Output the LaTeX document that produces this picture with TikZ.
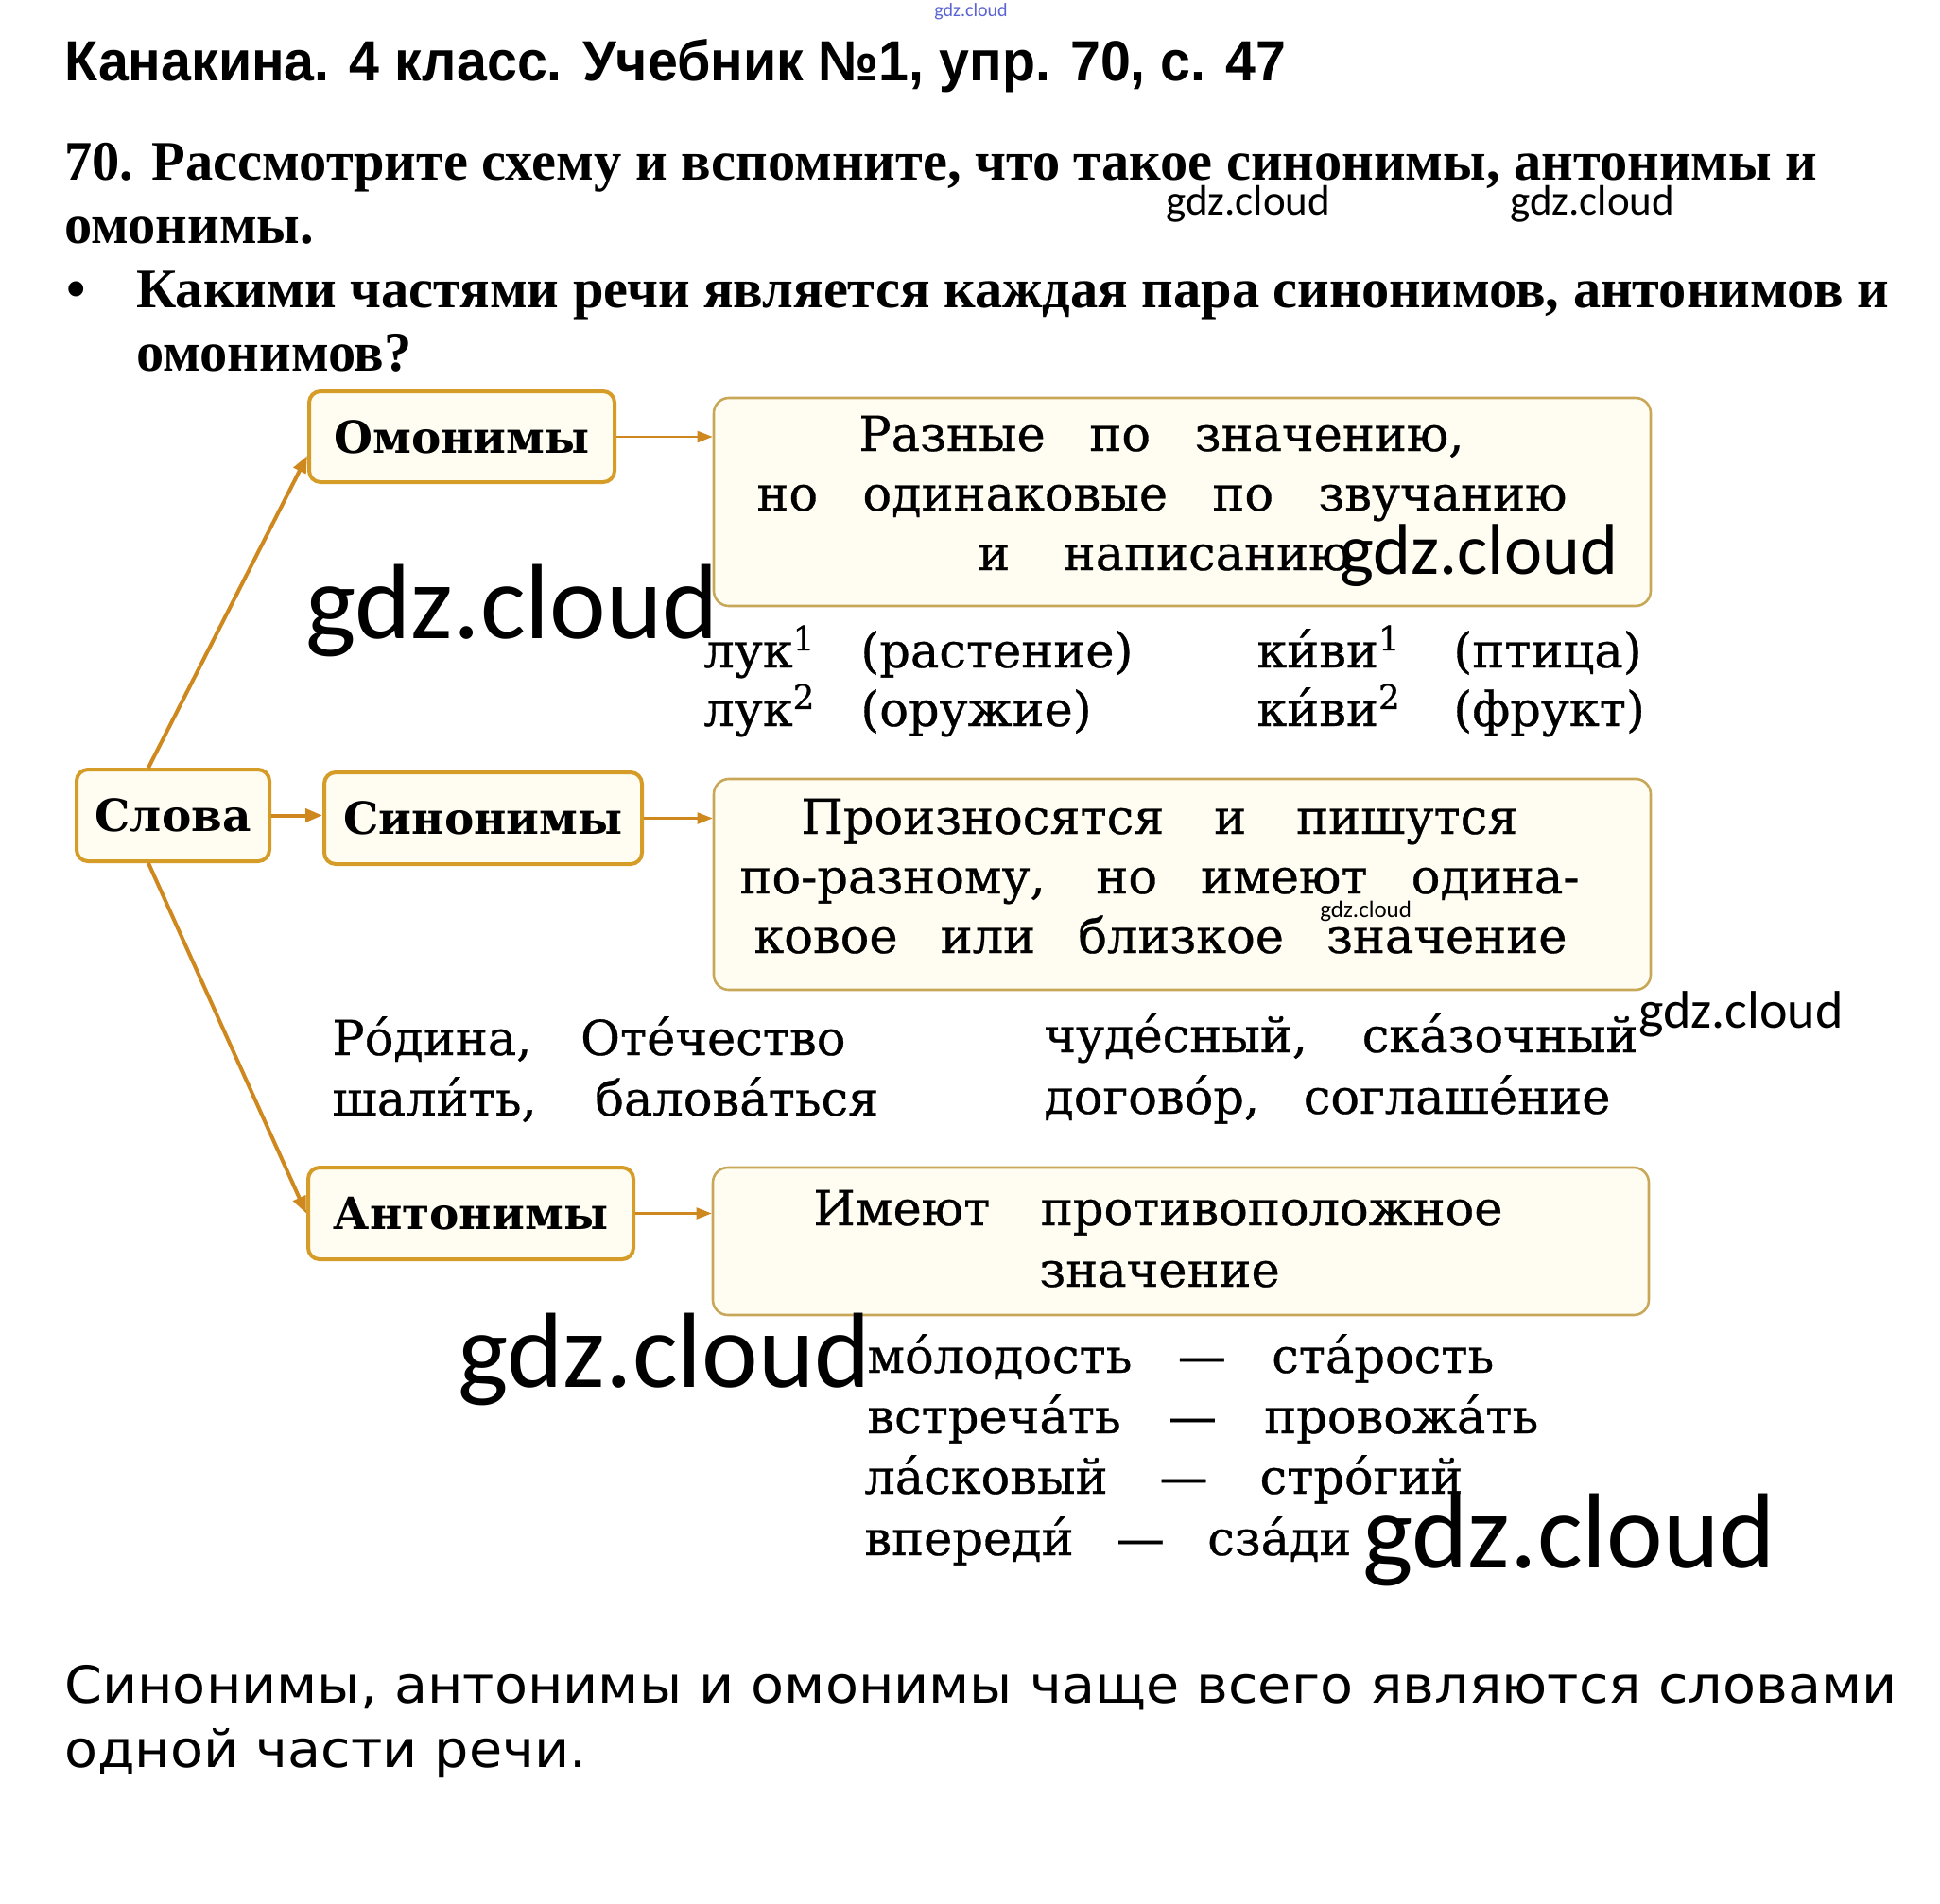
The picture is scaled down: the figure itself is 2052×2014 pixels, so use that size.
\documentclass[tikz,border=0pt]{standalone}
\usepackage{fontspec}
\setmainfont{DejaVu Serif}
\newfontfamily\bodyfont[FakeBold=0.6]{DejaVu Serif}
\newfontfamily\hdrfont[FakeStretch=0.955]{Liberation Sans}
\newfontfamily\qfont[FakeStretch=0.99]{Liberation Serif}
\newfontfamily\ansfont[FakeStretch=1.06]{DejaVu Sans}
\newfontfamily\wmfont{Carlito}
\usetikzlibrary{arrows.meta}
\definecolor{lblc}{RGB}{214,156,40}
\definecolor{descc}{RGB}{200,168,88}
\definecolor{arrc}{RGB}{206,136,30}
\definecolor{boxfill}{RGB}{255,253,242}
\definecolor{wmblue}{RGB}{90,100,210}
\newcommand\spreadline[2]{\makebox[#1][s]{#2}}
\begin{document}
\begin{tikzpicture}[x=0.5pt,y=-0.5pt,
  lbl/.style={draw=lblc, line width=2pt, fill=boxfill, rounded corners=6pt, inner sep=0pt,
    font=\bfseries\fontsize{23.5}{28}\selectfont},
  descbox/.style={draw=descc, line width=1.3pt, fill=boxfill, rounded corners=8pt, inner sep=0pt},
  txt/.style={anchor=base west, inner sep=0pt, font=\bodyfont\fontsize{25.5}{30}\selectfont},
  bigarr/.style={draw=arrc, line width=2pt, -{Triangle[length=9pt,width=7pt]}},
  smallarr/.style={draw=arrc, line width=1.1pt, -{Triangle[length=8pt,width=6pt]}},
  wm/.style={anchor=base west, inner sep=0pt},
  plain/.style={anchor=base west, inner sep=0pt},
  qtext/.style={anchor=base west, inner sep=0pt, font=\qfont\bfseries\fontsize{29.5}{35}\selectfont}]
\useasboundingbox (0,0) rectangle (2052,2014);
\fill[white] (0,0) rectangle (2052,2014);

% header
\node[wm, text=wmblue, font=\wmfont\fontsize{10}{12}\selectfont] (wmtop) at (988,17) {gdz.cloud};
\node[plain, font=\hdrfont\bfseries\fontsize{30}{36}\selectfont] (title) at (68,85)
  {Канакина. 4 класс. Учебник №1, упр. 70, с. 47};
\node[qtext] (q1) at (68,190)
  {70. Рассмотрите схему и вспомните, что такое синонимы, антонимы и};
\node[qtext] (q2) at (68,257) {омонимы.};
\node[qtext] (bul) at (70,325) {•};
\node[qtext] (q3) at (144,325)
  {Какими частями речи является каждая пара синонимов, антонимов и};
\node[qtext] (q4) at (144,392) {омонимов?};
\node[wm, font=\wmfont\fontsize{22.5}{27}\selectfont] (wmh1) at (1233,227) {gdz.cloud};
\node[wm, font=\wmfont\fontsize{22.5}{27}\selectfont] (wmh2) at (1597,227) {gdz.cloud};

% boxes
\node[lbl, minimum width=161.5pt, minimum height=48pt] (omon) at (488.5,462) {Омонимы};
\node[lbl, minimum width=102pt, minimum height=48.5pt] (slova) at (183,862.5) {Слова};
\node[lbl, minimum width=168pt, minimum height=48.5pt] (sinon) at (511,865.5) {Синонимы};
\node[lbl, minimum width=172pt, minimum height=48.5pt] (anton) at (498,1283.5) {Антонимы};
\node[descbox, minimum width=495.5pt, minimum height=110pt] (odesc) at (1250.5,531) {};
\node[descbox, minimum width=495.5pt, minimum height=111.5pt] (sdesc) at (1250.5,935.5) {};
\node[descbox, minimum width=495pt, minimum height=78pt] (adesc) at (1249,1313) {};

% connectors
\draw[bigarr] ([xshift=-13pt]slova.north) -- ([yshift=-10pt]omon.west);
\draw[bigarr] ([xshift=-13pt]slova.south) -- (anton.west);
\draw[bigarr] (slova.east) -- (slova.east -| sinon.west);
\draw[smallarr] (omon.east) -- (omon.east -| odesc.west);
\draw[smallarr] (sinon.east) -- (sinon.east -| sdesc.west);
\draw[smallarr] (anton.east) -- (anton.east -| adesc.west);

% omonym description
\node[txt] (o1) at (908,477) {\spreadline{320pt}{Разные по значению,}};
\node[txt] (o2) at (800,540) {\spreadline{428.5pt}{но одинаковые по звучанию}};
\node[txt] (o3) at (1034,603) {\spreadline{197pt}{и написанию}};
\node[txt] (oe1) at (744,706) {\makebox[83pt][l]{лук\textsuperscript{1}}(растение)};
\node[txt] (oe2) at (744,768) {\makebox[83pt][l]{лук\textsuperscript{2}}(оружие)};
\node[txt] (oe3) at (1329,706) {\makebox[104pt][l]{ки́ви\textsuperscript{1}}(птица)};
\node[txt] (oe4) at (1329,768) {\makebox[104pt][l]{ки́ви\textsuperscript{2}}(фрукт)};

% synonym description
\node[txt] (s1) at (847,882) {\spreadline{379pt}{Произносятся и пишутся}};
\node[txt] (s2) at (782,945) {\spreadline{444pt}{по-разному, но имеют одина-}};
\node[txt] (s3) at (797,1008) {\spreadline{430pt}{ковое или близкое значение}};
\node[txt] (se1) at (351,1116) {\spreadline{271.5pt}{Ро́дина, Оте́чество}};
\node[txt] (se2) at (351,1180) {\spreadline{289pt}{шали́ть, балова́ться}};
\node[txt] (se3) at (1104,1113) {\spreadline{314pt}{чуде́сный, ска́зочный}};
\node[txt] (se4) at (1104,1178) {\spreadline{299.5pt}{догово́р, соглаше́ние}};

% antonym description
\node[txt] (a1) at (860,1296) {\spreadline{364.5pt}{Имеют противоположное}};
\node[txt] (a2) at (1099,1361) {значение};
\node[txt] (ae1) at (917,1452) {\spreadline{331.5pt}{мо́лодость — ста́рость}};
\node[txt] (ae2) at (917,1516) {\spreadline{355pt}{встреча́ть — провожа́ть}};
\node[txt] (ae3) at (914,1580) {\spreadline{316.5pt}{ла́сковый — стро́гий}};
\node[txt] (ae4) at (914,1645) {\spreadline{257.5pt}{впереди́ — сза́ди}};

% watermarks in diagram
\node[wm, font=\wmfont\fontsize{56.5}{68}\selectfont] (wm1) at (323,675) {gdz.cloud};
\node[wm, font=\wmfont\fontsize{38}{46}\selectfont] (wm2) at (1417,607) {gdz.cloud};
\node[wm, font=\wmfont\fontsize{12.5}{15}\selectfont] (wm3) at (1396,970) {gdz.cloud};
\node[wm, font=\wmfont\fontsize{28}{34}\selectfont] (wm4) at (1733,1087) {gdz.cloud};
\node[wm, font=\wmfont\fontsize{56.5}{68}\selectfont] (wm5) at (484,1467) {gdz.cloud};
\node[wm, font=\wmfont\fontsize{56.5}{68}\selectfont] (wm6) at (1441,1658) {gdz.cloud};

% answer
\node[plain, font=\ansfont\fontsize{27}{32}\selectfont] (ans1) at (68,1801)
  {Синонимы, антонимы и омонимы чаще всего являются словами};
\node[plain, font=\ansfont\fontsize{27}{32}\selectfont] (ans2) at (68,1869) {одной части речи.};
\end{tikzpicture}
\end{document}
